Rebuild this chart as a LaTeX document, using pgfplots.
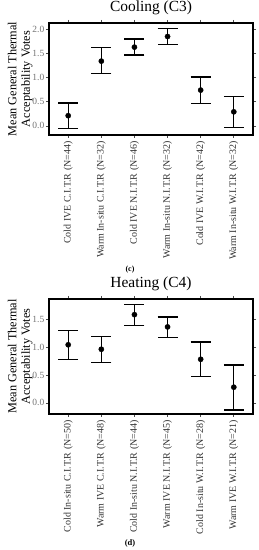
\documentclass[border=0pt]{standalone}
\usepackage{fontspec}
\setmainfont{Liberation Serif}
\usepackage{pgfplots}
\pgfplotsset{compat=1.18}
\pgfplotsset{myax/.style={
  scale only axis, width=204bp,
  xmin=-0.58, xmax=5.58, xtick={0,...,5},
  axis line style={line width=1.1bp},
  tick align=outside, major tick length=3bp,
  tick style={black!70, line width=0.6bp},
  x tick label style={rotate=90, anchor=east, font=\fontsize{10}{12}\selectfont, text=black!80},
  y tick label style={font=\fontsize{9.5}{11}\selectfont, text=black!55, inner xsep=1.5bp},
  /pgf/number format/assume math mode=true,
  yticklabel style={/pgf/number format/.cd, fixed, fixed zerofill, precision=1},
  ylabel={Mean General Thermal\\Acceptability Votes},
  ylabel style={at={(axis description cs:-0.08,0.5)}, anchor=south, inner sep=0pt,
    align=center, font=\fontsize{12.3}{13.5}\selectfont},
  title style={font=\fontsize{15.5}{17}\selectfont, yshift=-1.5bp},
  axis background/.style={fill=white},
}}
\begin{document}
\begin{tikzpicture}
\useasboundingbox (0,0) rectangle (259bp,550bp);
\begin{axis}[myax, at={(49bp,415bp)}, anchor=south west, height=112bp,
  ymin=-0.19, ymax=2.13, ytick={0,0.5,1,1.5,2},
  title={Cooling (C3)},
  xticklabels={Cold IVE C.I.T.R (N=44), Warm In-situ C.I.T.R (N=32), Cold IVE N.I.T.R (N=46), Warm In-situ N.I.T.R (N=32), Cold IVE W.I.T.R (N=42), Warm In-situ W.I.T.R (N=32)}]
\addplot[only marks, mark=*, mark size=2.6bp, mark options={draw=black, fill=black},
  error bars/.cd, y dir=both, y explicit,
  error bar style={line width=1.3bp, black},
  error mark options={rotate=90, mark size=10bp, line width=1.3bp, black}]
  table[x=x, y=y, y error plus=ep, y error minus=em] {
x y ep em
0 0.21 0.26 0.26
1 1.34 0.28 0.25
2 1.63 0.17 0.16
3 1.85 0.17 0.17
4 0.74 0.27 0.28
5 0.29 0.32 0.32
};
\end{axis}
\node[font=\bfseries\fontsize{8}{9}\selectfont] at (130bp,280bp) {(c)};
\begin{axis}[myax, at={(49bp,136bp)}, anchor=south west, height=115bp,
  ymin=-0.2, ymax=1.86, ytick={0,0.5,1,1.5},
  title={Heating (C4)},
  xticklabels={Cold In-situ C.I.T.R (N=50), Warm IVE C.I.T.R (N=48), Cold In-situ N.I.T.R (N=44), Warm IVE N.I.T.R (N=45), Cold In-situ W.I.T.R (N=28), Warm IVE W.I.T.R (N=21)}]
\addplot[only marks, mark=*, mark size=2.6bp, mark options={draw=black, fill=black},
  error bars/.cd, y dir=both, y explicit,
  error bar style={line width=1.3bp, black},
  error mark options={rotate=90, mark size=10bp, line width=1.3bp, black}]
  table[x=x, y=y, y error plus=ep, y error minus=em] {
x y ep em
0 1.04 0.26 0.26
1 0.96 0.23 0.24
2 1.58 0.18 0.20
3 1.36 0.18 0.19
4 0.78 0.31 0.31
5 0.28 0.40 0.41
};
\end{axis}
\node[font=\bfseries\fontsize{8.5}{9}\selectfont] at (130bp,7bp) {(d)};
\end{tikzpicture}
\end{document}
